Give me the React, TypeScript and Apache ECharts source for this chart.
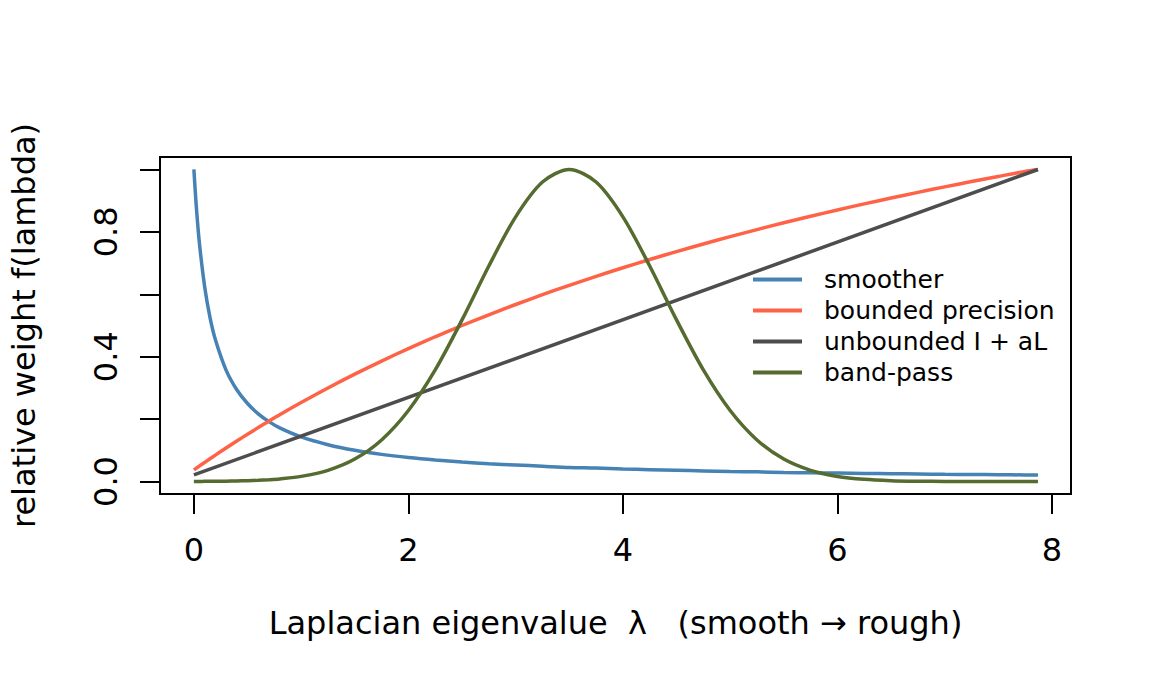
import { useEffect, useRef } from 'react'
import * as echarts from 'echarts'

// eigenvalue grid (x) shared by the curved series
const lambda = [
  0, 0.02, 0.05, 0.1, 0.15, 0.2, 0.3, 0.4, 0.5, 0.6, 0.7, 0.8, 1.0, 1.25, 1.5, 1.75,
  2.0, 2.25, 2.5, 2.75, 3.0, 3.25, 3.5, 3.75, 4.0, 4.25, 4.5, 4.75, 5.0, 5.25, 5.5,
  5.75, 6.0, 6.25, 6.5, 6.75, 7.0, 7.25, 7.5, 7.75, 7.87,
]

const smootherWeight = [
  1.0, 0.893, 0.769, 0.625, 0.526, 0.455, 0.357, 0.294, 0.25, 0.217, 0.192, 0.172, 0.143,
  0.118, 0.1, 0.087, 0.077, 0.069, 0.0625, 0.057, 0.053, 0.049, 0.045, 0.043, 0.04, 0.038,
  0.036, 0.034, 0.032, 0.031, 0.029, 0.028, 0.027, 0.026, 0.025, 0.024, 0.023, 0.0225,
  0.0217, 0.0211, 0.0208,
]

const boundedWeight = [
  0.0371, 0.042, 0.0492, 0.0611, 0.0729, 0.0846, 0.1074, 0.1297, 0.1515, 0.1728, 0.1935,
  0.2139, 0.2531, 0.2998, 0.3441, 0.386, 0.4259, 0.4639, 0.5, 0.5344, 0.5673, 0.5987,
  0.6288, 0.6575, 0.6851, 0.7115, 0.7369, 0.7613, 0.7848, 0.8074, 0.8291, 0.85, 0.8702,
  0.8897, 0.9085, 0.9267, 0.9443, 0.9613, 0.9777, 0.9937, 1.0,
]

const bandPassWeight = [
  0.0003, 0.0003, 0.0004, 0.0005, 0.0006, 0.0008, 0.0012, 0.0018, 0.0027, 0.004, 0.0058,
  0.0083, 0.0164, 0.0358, 0.0719, 0.1333, 0.2276, 0.3577, 0.518, 0.6907, 0.8483, 0.9597,
  1.0, 0.9597, 0.8483, 0.6907, 0.518, 0.3577, 0.2276, 0.1333, 0.0719, 0.0358, 0.0164,
  0.0069, 0.0027, 0.001, 0.0003, 0.0001, 0, 0, 0,
]

// the I + aL weight is a straight line
const unboundedLambda = [0, 7.87]
const unboundedWeight = [0.021, 1.0]

const xTicks = [0, 2, 4, 6, 8]
const yTicks = [0, 0.2, 0.4, 0.6, 0.8, 1.0]
const yLabels = [0, 0.4, 0.8]

const FONT = 'DejaVu Sans'

export default function App() {
  const chartRef = useRef<HTMLDivElement>(null)

  useEffect(() => {
    if (!chartRef.current) return
    document.body.style.margin = '0'

    const chart = echarts.init(chartRef.current, null, { renderer: 'svg' })

    const pairs = (xs: number[], ys: number[]) => xs.map((x, i) => [x, ys[i]])

    const lineSeries = (name: string, data: number[][], color: string) => ({
      name,
      type: 'line',
      data,
      showSymbol: false,
      symbol: 'none',
      smooth: 0.3,
      color,
      lineStyle: { color, width: 3.5 },
    })

    const option = {
      animation: false,
      textStyle: { fontFamily: FONT },
      grid: {
        left: 157,
        top: 157,
        width: 914,
        height: 337,
        show: true,
        borderColor: '#000',
        borderWidth: 2,
      },
      legend: {
        orient: 'vertical',
        left: 748,
        top: 262,
        itemWidth: 49,
        itemHeight: 4,
        itemGap: 6,
        icon: 'rect',
        itemStyle: { borderWidth: 0 },
        textStyle: {
          fontFamily: FONT,
          fontSize: 25,
          lineHeight: 25,
          color: '#000',
          padding: [0, 0, 0, 17],
        },
        data: ['smoother', 'bounded precision', 'unbounded I + aL', 'band-pass'],
      },
      xAxis: {
        type: 'value',
        min: -0.316,
        max: 8.178,
        name: 'Laplacian eigenvalue  λ   (smooth → rough)',
        nameLocation: 'middle',
        nameGap: 113,
        nameTextStyle: { fontFamily: FONT, fontSize: 32, color: '#000' },
        axisLine: { show: false, onZero: false },
        axisTick: {
          show: true,
          customValues: xTicks,
          length: 20,
          lineStyle: { color: '#000', width: 2 },
        },
        axisLabel: {
          customValues: xTicks,
          margin: 40,
          fontFamily: FONT,
          fontSize: 32,
          color: '#000',
        },
        splitLine: { show: false },
      },
      yAxis: {
        type: 'value',
        min: -0.04,
        max: 1.04,
        name: 'relative weight f(lambda)',
        nameLocation: 'middle',
        nameRotate: 90,
        nameGap: 120,
        nameTextStyle: { fontFamily: FONT, fontSize: 32, color: '#000' },
        axisLine: { show: false, onZero: false },
        axisTick: {
          show: true,
          customValues: yTicks,
          length: 20,
          lineStyle: { color: '#000', width: 2 },
        },
        axisLabel: {
          customValues: yLabels,
          rotate: 90,
          margin: 38,
          fontFamily: FONT,
          fontSize: 32,
          color: '#000',
          formatter: (v: number) => v.toFixed(1),
        },
        splitLine: { show: false },
      },
      series: [
        lineSeries('smoother', pairs(lambda, smootherWeight), '#4682B4'),
        lineSeries('bounded precision', pairs(lambda, boundedWeight), '#FF6347'),
        lineSeries('unbounded I + aL', pairs(unboundedLambda, unboundedWeight), '#4D4D4D'),
        lineSeries('band-pass', pairs(lambda, bandPassWeight), '#556B2F'),
      ],
    }

    chart.setOption(option)

    return () => {
      chart.dispose()
    }
  }, [])

  return <div ref={chartRef} style={{ width: '1152px', height: '691px' }} />
}
